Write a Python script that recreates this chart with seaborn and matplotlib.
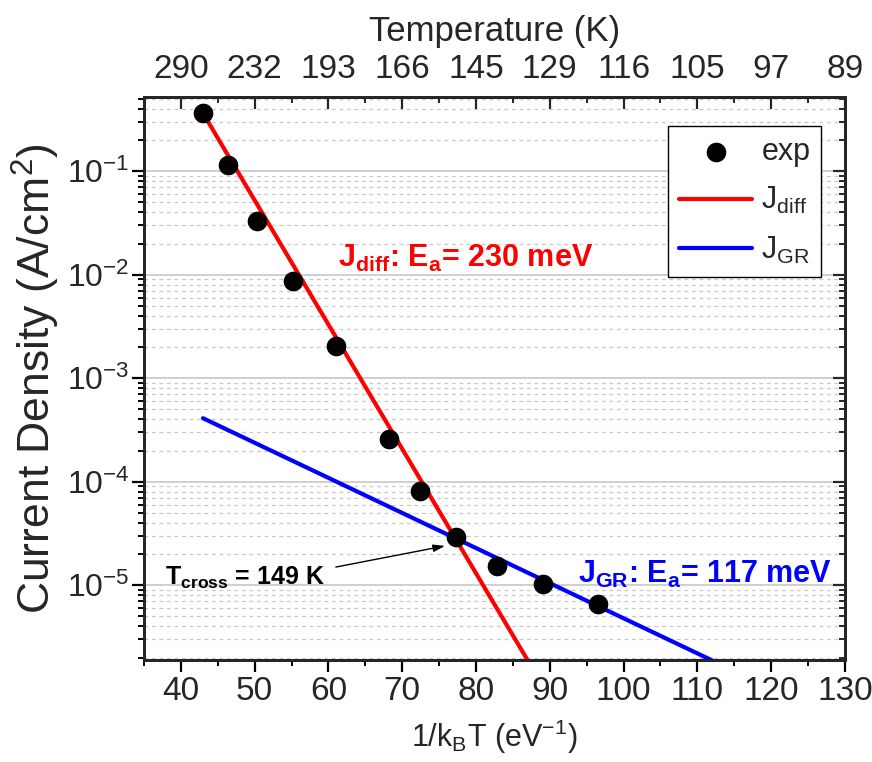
import matplotlib
matplotlib.use("Agg")
import matplotlib.pyplot as plt
import matplotlib.ticker as mticker
from matplotlib import font_manager
import numpy as np
import pandas as pd
import seaborn as sns

# ---------------- data ----------------
inv_kT_exp = [43.0, 46.4, 50.3, 55.2, 61.0, 68.2, 72.4, 77.3, 82.8, 89.1, 96.5]
J_exp = [0.363, 0.114, 0.0329, 0.00865, 0.00204, 2.58e-4, 8.1e-5, 2.91e-5, 1.53e-5, 1.02e-5, 6.55e-6]

inv_kT_diff = [43.0, 88.0]
J_diff = [0.363, 1.43e-6]

inv_kT_gr = [43.0, 113.0]
J_gr = [4.11e-4, 1.74e-6]

x_ticks = [40, 50, 60, 70, 80, 90, 100, 110, 120, 130]
temp_labels = ["290", "232", "193", "166", "145", "129", "116", "105", "97", "89"]

# ---------------- style ----------------
sns.set_style("white")

def pick_font(names):
    for n in names:
        try:
            font_manager.findfont(font_manager.FontProperties(family=n), fallback_to_default=False)
            return n
        except Exception:
            pass
    return "DejaVu Sans"

FONT = pick_font(["Liberation Sans", "Arial"])
plt.rcParams["font.family"] = [FONT, "DejaVu Sans"]
plt.rcParams["mathtext.fontset"] = "custom"
plt.rcParams["mathtext.rm"] = FONT
plt.rcParams["mathtext.it"] = FONT + ":italic"
plt.rcParams["mathtext.bf"] = FONT + ":bold"
plt.rcParams["mathtext.default"] = "regular"

fig = plt.figure(figsize=(8.72, 7.62), dpi=100)
ax = fig.add_axes([0.1651, 0.1339, 0.8039, 0.7388])

df_exp = pd.DataFrame({"x": inv_kT_exp, "J": J_exp})
df_diff = pd.DataFrame({"x": inv_kT_diff, "J": J_diff})
df_gr = pd.DataFrame({"x": inv_kT_gr, "J": J_gr})

sns.lineplot(data=df_diff, x="x", y="J", ax=ax, color="#ff0000", lw=3, label=r"J$_{diff}$", zorder=3)
sns.lineplot(data=df_gr, x="x", y="J", ax=ax, color="#0000ff", lw=3, label=r"J$_{GR}$", zorder=3)
sns.scatterplot(data=df_exp, x="x", y="J", ax=ax, color="black", s=200, edgecolor="black",
                linewidth=0, label="exp", zorder=4)

ax.set_yscale("log")
ax.set_xlim(35, 130)
ax.set_ylim(1.9e-6, 0.52)

# grid
ax.yaxis.grid(True, which="major", color="#cccccc", lw=1.3, ls="-", zorder=0)
ax.yaxis.grid(True, which="minor", color="#c8c8c8", lw=0.9, ls=(0, (3, 3)), zorder=0)
ax.xaxis.grid(False)
ax.set_axisbelow(True)

ax.set_xticks(x_ticks)
ax.xaxis.set_minor_locator(mticker.MultipleLocator(5))
ax.yaxis.set_major_locator(mticker.LogLocator(base=10, numticks=20))
ax.yaxis.set_minor_locator(mticker.LogLocator(base=10, subs=np.arange(2, 10), numticks=20))
ax.yaxis.set_minor_formatter(mticker.NullFormatter())

ax.tick_params(axis="x", which="major", direction="out", length=8.5, width=1.6,
               labelsize=24, color="black", pad=3)
ax.tick_params(axis="y", which="major", direction="out", length=8.5, width=1.6,
               labelsize=23, color="black", pad=2)
ax.tick_params(axis="both", which="minor", direction="out", length=4.3, width=1.4, color="black")
ax.tick_params(top=False, right=False, which="both")

for sp in ax.spines.values():
    sp.set_linewidth(1.8)
    sp.set_color("black")

ax.set_xlabel(r"1/k$_B$T (eV$^{-1}$)", fontsize=22, labelpad=8)
ax.set_ylabel(r"Current Density (A/cm$^2$)", fontsize=32, labelpad=3)

# top axis (temperature)
ax_top = ax.twiny()
ax_top.set_xlim(ax.get_xlim())
ax_top.set_xticks(x_ticks)
ax_top.set_xticklabels(temp_labels)
ax_top.xaxis.set_minor_locator(mticker.MultipleLocator(5))
ax_top.tick_params(axis="x", which="major", direction="in", length=8.5, width=1.6,
                   labelsize=24, pad=9)
ax_top.tick_params(axis="x", which="minor", direction="in", length=4.3, width=1.4)
ax_top.set_xlabel("Temperature (K)", fontsize=25, labelpad=9)
ax_top.tick_params(left=False, right=False, labelleft=False, labelright=False, which="both")

# right axis ticks (inward)
ax_r = ax.twinx()
ax_r.set_yscale("log")
ax_r.set_ylim(ax.get_ylim())
ax_r.yaxis.set_major_locator(mticker.LogLocator(base=10, numticks=20))
ax_r.yaxis.set_minor_locator(mticker.LogLocator(base=10, subs=np.arange(2, 10), numticks=20))
ax_r.tick_params(axis="y", which="major", direction="in", length=8.5, width=1.6, labelright=False)
ax_r.tick_params(axis="y", which="minor", direction="in", length=4.3, width=1.4, labelright=False)
ax_r.tick_params(top=False, bottom=False, labeltop=False, labelbottom=False, which="both")
for a in (ax_top, ax_r):
    for sp in a.spines.values():
        sp.set_linewidth(1.8)

# annotations
ax.text(61.3, 0.0120, r"$\mathbf{J_{diff}}$: $\mathbf{E_a}$= 230 meV", color="#ff0000",
        fontsize=22, fontweight="bold", ha="left", va="baseline", zorder=5)
ax.text(93.8, 1.05e-5, r"$\mathbf{J_{GR}}$: $\mathbf{E_a}$= 117 meV", color="#0000ff",
        fontsize=22, fontweight="bold", ha="left", va="baseline", zorder=5)
ax.text(37.9, 1.0e-5, r"$\mathbf{T_{cross}}$ = 149 K", color="black",
        fontsize=18, fontweight="bold", ha="left", va="baseline", zorder=5)
ax.annotate("", xy=(75.8, 2.4e-5), xytext=(61.0, 1.5e-5),
            arrowprops=dict(arrowstyle="-|>,head_length=0.7,head_width=0.22",
                            color="black", lw=1.0, shrinkA=0, shrinkB=0), zorder=5)

# legend
handles, labels = ax.get_legend_handles_labels()
order = [labels.index("exp"), labels.index(r"J$_{diff}$"), labels.index(r"J$_{GR}$")]
leg = ax.legend([handles[i] for i in order], [labels[i] for i in order],
                loc="upper right", bbox_to_anchor=(0.966, 0.948), borderaxespad=0,
                fontsize=22, frameon=True, fancybox=False, edgecolor="black", framealpha=1,
                handlelength=2.4, handletextpad=0.3, borderpad=0.35, labelspacing=0.6,
                markerscale=1.0)
leg.get_frame().set_linewidth(1.0)
leg.set_zorder(10)

fig.savefig("out.png", dpi=100)
